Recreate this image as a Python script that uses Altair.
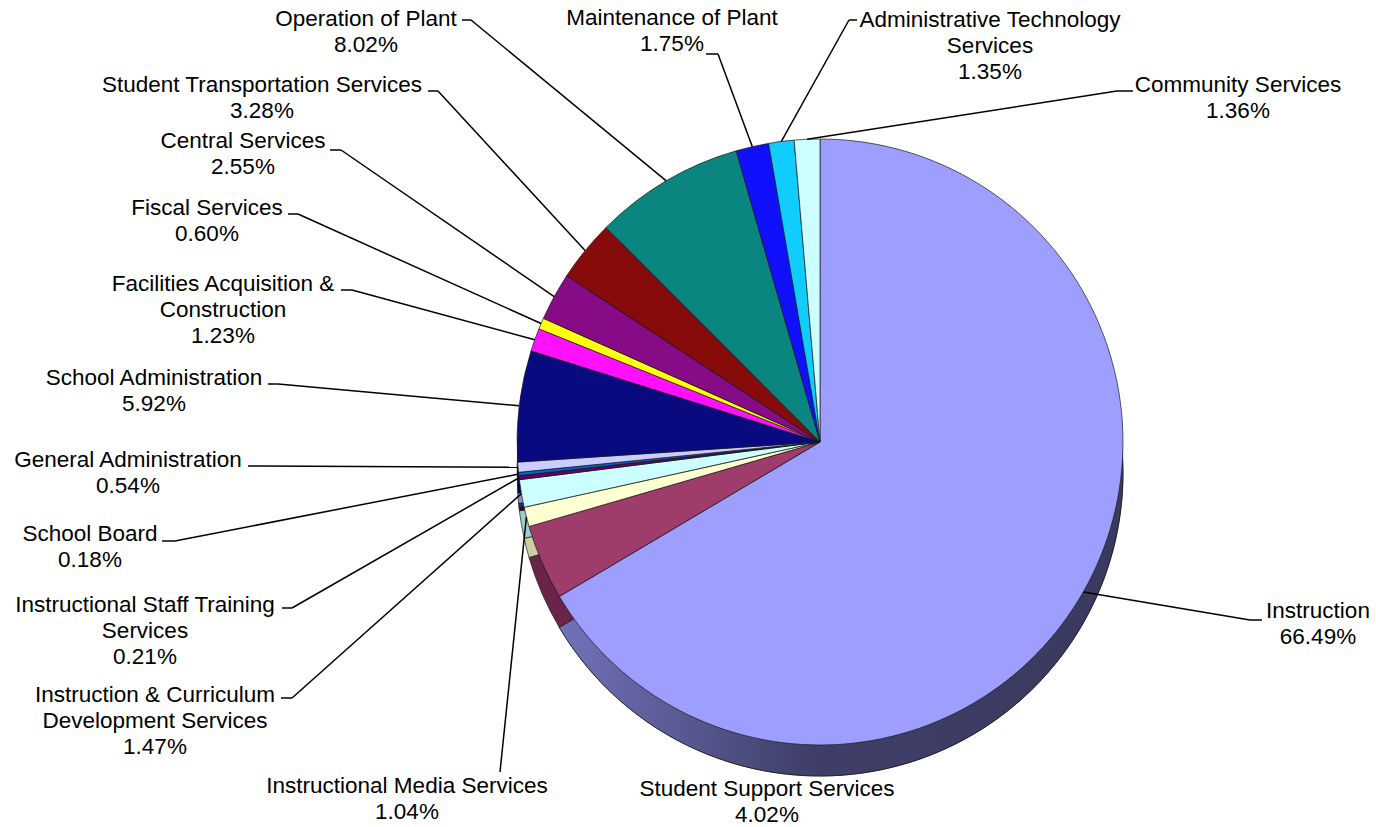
import math
import altair as alt
import pandas as pd

# ---------------- data ----------------
categories = [
    "Instruction", "Student Support Services", "Instructional Media Services",
    "Instruction & Curriculum Development Services", "Instructional Staff Training Services",
    "School Board", "General Administration", "School Administration",
    "Facilities Acquisition & Construction", "Fiscal Services", "Central Services",
    "Student Transportation Services", "Operation of Plant", "Maintenance of Plant",
    "Administrative Technology Services", "Community Services",
]
percents = [66.49, 4.02, 1.04, 1.47, 0.21, 0.18, 0.54, 5.92, 1.23, 0.60, 2.55,
            3.28, 8.02, 1.75, 1.35, 1.36]
label_names = [
    "Instruction", "Student Support Services", "Instructional Media Services",
    "Instruction & Curriculum\nDevelopment Services", "Instructional Staff Training\nServices",
    "School Board", "General Administration", "School Administration",
    "Facilities Acquisition &\nConstruction", "Fiscal Services", "Central Services",
    "Student Transportation Services", "Operation of Plant", "Maintenance of Plant",
    "Administrative Technology\nServices", "Community Services",
]

# ---------------- styles ----------------
top_colors = ["#9E9EFF", "#9E3D6B", "#FFFFD2", "#CCFFFF", "#660066", "#0066CC",
              "#CCCCFF", "#0A0A80", "#FF10FF", "#FFFF10", "#870B87", "#870B0B",
              "#0B8580", "#1010FF", "#10CCFF", "#CCFFFF"]
side_colors = ["#3C3C64", "#6A2448", "#CDCDA0", "#A0CDCD", "#400040", "#004080",
               "#9090B8", "#000050", "#A000A0", "#A0A000", "#500050", "#500000",
               "#005050", "#0000A0", "#0080A0", "#A0CDCD"]

# ---------------- layout (pixels) ----------------
CX, CY, R, DEPTH = 820, 442, 303, 31
FONT_SIZE, LINE_H = 22.5, 26
label_cx = [1318, 767, 407, 155, 145, 90, 128, 154, 223, 207, 243, 262, 366, 672, 990, 1238]
label_cy = [610, 788, 785, 694, 604, 533, 459, 377, 283, 207, 140, 84, 18, 17, 19, 84]
leader_sx = [1262, None, 500, 281, 282, 162, 248, 268, 341, 288, 330, 428, 462, 706, 857, 1133]
leader_sy = [620, None, 772, 698, 608, 541, 466, 384, 290, 214, 150, 91, 20, 54, 20, 91]
leader_ex = [1250, None, 500, 292, 292, 175, 259, 278, 352, 298, 341, 438, 471, 718, 849, 1117]

total = sum(percents)

df = pd.DataFrame({
    "idx": list(range(len(categories))),
    "category": categories,
    "value": percents,
    "label": [f"{n}\n{v:.2f}%" for n, v in zip(label_names, percents)],
    "lx": label_cx,
    "ly": [c - 10 for c in label_cy],
    "sx": leader_sx,
    "sy": leader_sy,
    "ex": leader_ex,
})

base = alt.Chart(df).transform_stack(
    stack="value", groupby=[], as_=["start", "end"],
    sort=[alt.SortField("idx", order="ascending")],
)

theta = alt.Theta("start:Q", scale=alt.Scale(domain=[0, total], range=[0, 2 * math.pi]))
theta2 = alt.Theta2("end:Q")

side = base.mark_arc(radius=R, stroke="#1a1a1a", strokeWidth=0.7).encode(
    theta=theta, theta2=theta2,
    x=alt.value(CX), y=alt.value(CY + DEPTH),
    fill=alt.Fill("category:N", scale=alt.Scale(domain=categories, range=side_colors), legend=None),
)

grad = alt.LinearGradient(
    gradient="linear",
    stops=[alt.GradientStop(color="#7272BA", offset=0),
           alt.GradientStop(color="#3E3E68", offset=0.45),
           alt.GradientStop(color="#3A3A60", offset=1)],
    x1=0, x2=1, y1=0, y2=0,
)
side_grad = base.transform_filter(alt.datum.category == "Instruction").mark_arc(
    radius=R, stroke="#1a1a1a", strokeWidth=0.7, fill=grad
).encode(theta=theta, theta2=theta2, x=alt.value(CX), y=alt.value(CY + DEPTH))

top = base.mark_arc(radius=R, stroke="#1a1a1a", strokeWidth=0.7).encode(
    theta=theta, theta2=theta2,
    x=alt.value(CX), y=alt.value(CY),
    fill=alt.Fill("category:N", scale=alt.Scale(domain=categories, range=top_colors), legend=None),
)

leader_base = base.transform_filter("isValid(datum.sx)").transform_calculate(
    ang=f"2*PI*(datum.start+datum.end)/2/{total}",
).transform_calculate(
    px=f"{CX} + {R}*sin(datum.ang)",
    py=f"{CY} - {R}*cos(datum.ang)",
)

stub = leader_base.mark_rule(color="black", strokeWidth=1.5).encode(
    x=alt.X("sx:Q", scale=None, axis=None), x2="ex:Q",
    y=alt.Y("sy:Q", scale=None, axis=None), y2="sy:Q",
)
diag = leader_base.mark_rule(color="black", strokeWidth=1.5).encode(
    x=alt.X("ex:Q", scale=None, axis=None), x2="px:Q",
    y=alt.Y("sy:Q", scale=None, axis=None), y2="py:Q",
)

labels = alt.Chart(df).mark_text(
    align="center", baseline="top", fontSize=FONT_SIZE, font="Liberation Sans",
    lineHeight=LINE_H, lineBreak="\n", color="black",
).encode(
    x=alt.X("lx:Q", scale=None, axis=None),
    y=alt.Y("ly:Q", scale=None, axis=None),
    text="label:N",
)

chart = alt.layer(side, side_grad, top, stub, diag, labels).resolve_scale(
    fill="independent"
).properties(
    width=1376, height=827, autosize=alt.AutoSizeParams(type="none"), padding=0,
    background="white",
).configure_view(stroke=None)

chart.save("out.html", embed_options={"renderer": "svg", "actions": False})
